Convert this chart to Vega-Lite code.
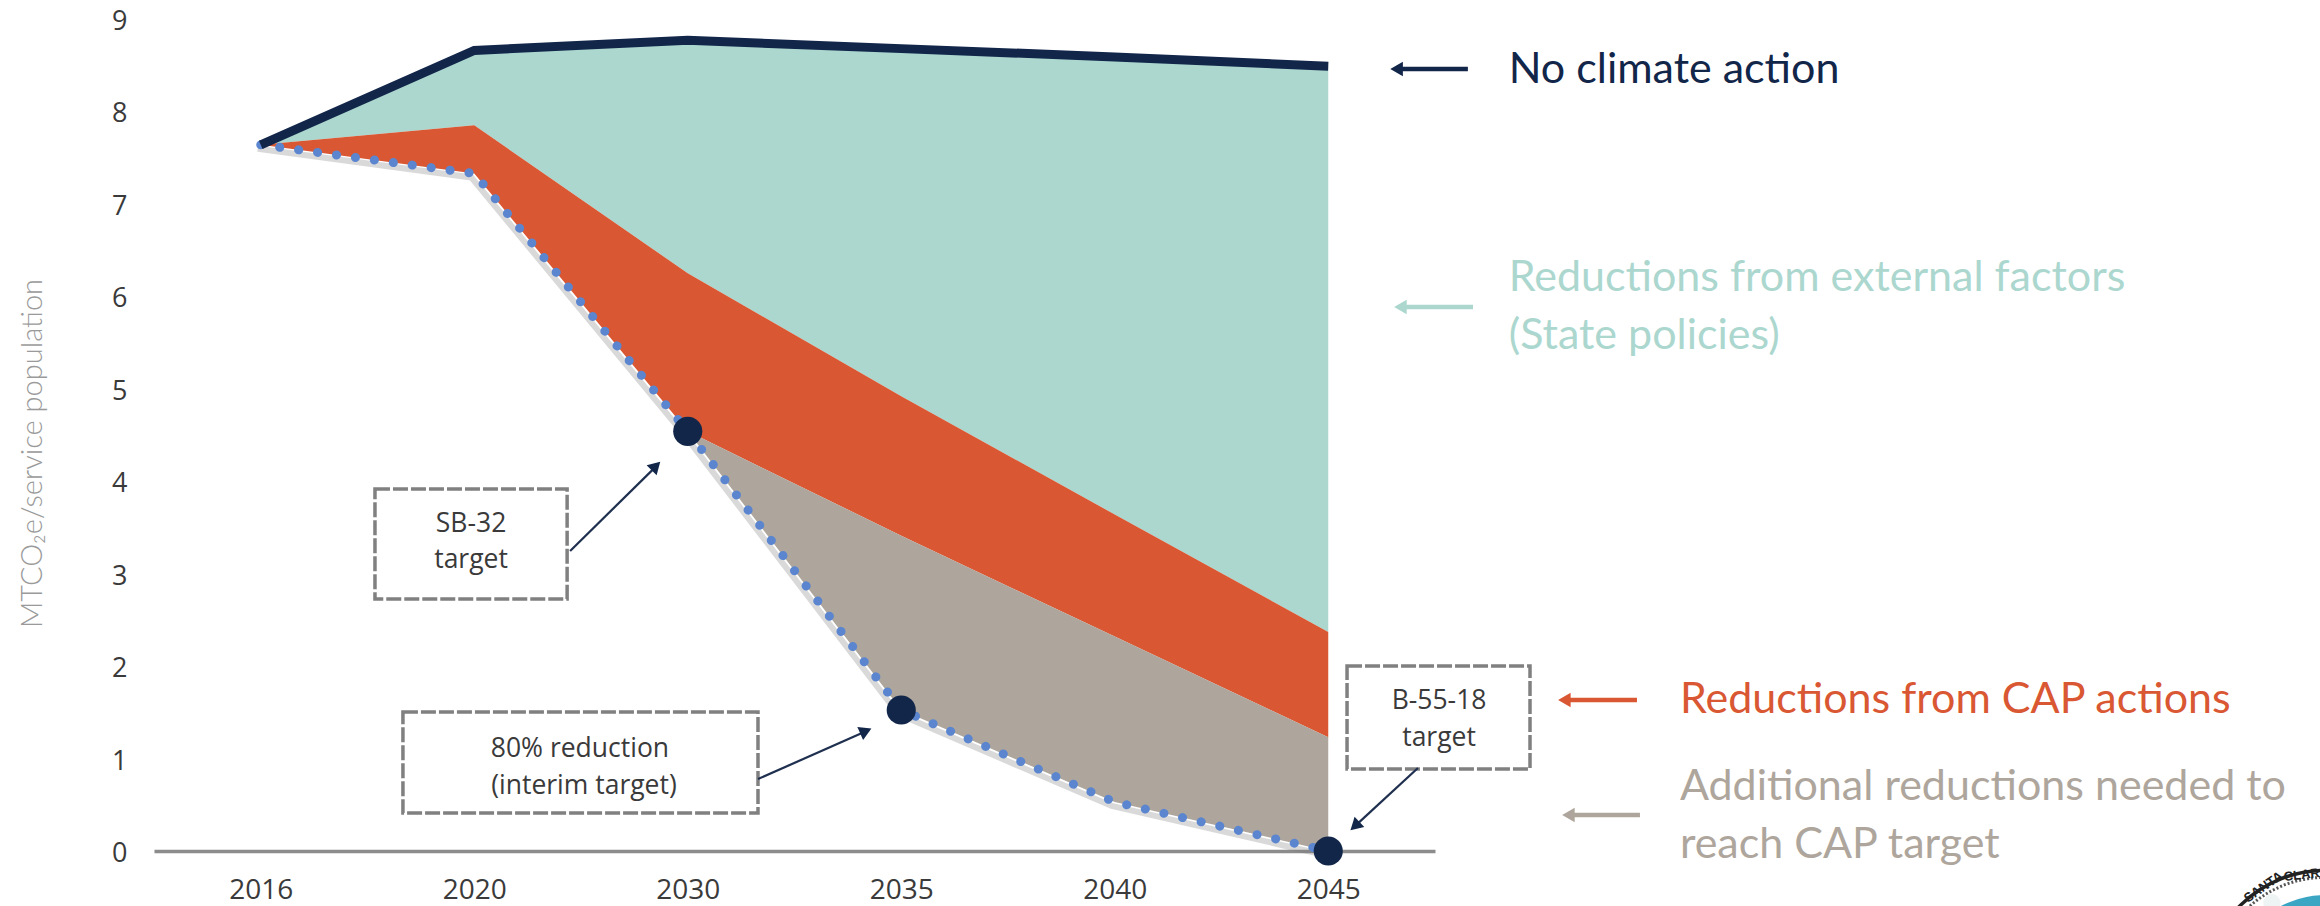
{
"$schema":"https://vega.github.io/schema/vega-lite/v6.json",
"width":1281,"height":851,
"autosize":{"type":"none"},
"padding":{"left":154,"top":0,"right":885,"bottom":55},
"background":"white",
"config":{"view":{"stroke":null}},
"datasets":{
"series":[
{"year":"2016","pos":0,"noAction":7.64,"afterExternal":7.64,"afterCAP":7.64,"target":7.64},
{"year":"2020","pos":1,"noAction":8.66,"afterExternal":7.85,"afterCAP":7.33,"target":7.33},
{"year":"2030","pos":2,"noAction":8.77,"afterExternal":6.25,"afterCAP":4.54,"target":4.54},
{"year":"2035","pos":3,"noAction":8.68,"afterExternal":4.92,"afterCAP":3.41,"target":1.525},
{"year":"2040","pos":4,"noAction":8.59,"afterExternal":3.64,"afterCAP":2.32,"target":0.53},
{"year":"2045","pos":5,"noAction":8.49,"afterExternal":2.37,"afterCAP":1.23,"target":0}
],
"targets":[
{"name":"SB-32","pos":2,"value":4.54},
{"name":"80% reduction","pos":3,"value":1.525},
{"name":"B-55-18","pos":5,"value":0}
],
"keyText":[
{"text":"No climate action","pos":5.845,"value":8.449,"group":"none"},
{"text":"Reductions from external factors","pos":5.845,"value":6.199,"group":"external"},
{"text":"(State policies)","pos":5.845,"value":5.571,"group":"external"},
{"text":"Reductions from CAP actions","pos":6.647,"value":1.633,"group":"cap"},
{"text":"Additional reductions needed to","pos":6.647,"value":0.692,"group":"extra"},
{"text":"reach CAP target","pos":6.647,"value":0.065,"group":"extra"}
],
"keyArrows":[
{"pos":5.32,"pos2":5.654,"value":8.459,"group":"none"},
{"pos":5.338,"pos2":5.678,"value":5.885,"group":"external"},
{"pos":6.106,"pos2":6.446,"value":1.633,"group":"cap"},
{"pos":6.125,"pos2":6.46,"value":0.389,"group":"extra"}
],
"boxes":[
{"pos":0.535,"pos2":1.435,"value":3.916,"value2":2.726},
{"pos":0.666,"pos2":2.329,"value":1.504,"value2":0.411},
{"pos":5.088,"pos2":5.945,"value":2.001,"value2":0.887}
],
"boxText":[
{"text":"SB-32","pos":0.985,"value":3.537},
{"text":"target","pos":0.985,"value":3.148},
{"text":"80% reduction","pos":1.495,"value":1.103},
{"text":"(interim target)","pos":1.514,"value":0.703},
{"text":"B-55-18","pos":5.519,"value":1.623},
{"text":"target","pos":5.519,"value":1.222}
],
"pointers":[
{"pos":1.449,"pos2":1.86,"value":3.245,"value2":4.18},
{"pos":2.329,"pos2":2.84,"value":0.779,"value2":1.3},
{"pos":5.42,"pos2":5.13,"value":0.898,"value2":0.28}
]
},
"layer":[
{"data":{"name":"series"},"mark":{"type":"area","color":"#abd7cf","opacity":1},
"encoding":{
"x":{"field":"pos","type":"quantitative","scale":{"domain":[-0.5,5.5],"nice":false,"zero":false},
"axis":{"values":[0,1,2,3,4,5],"labelExpr":"['2016','2020','2030','2035','2040','2045'][datum.value]","title":null,"grid":false,"ticks":false,"domainColor":"#8c8c8c","domainWidth":3.5,"labelFont":"Open Sans","labelFontSize":28,"labelColor":"#3a3a3a","labelPadding":25,"labelFlush":false,"labelBound":false,"labelOverlap":false}},
"y":{"field":"noAction","type":"quantitative","scale":{"domain":[0,9.206],"nice":false},
"axis":{"values":[0,1,2,3,4,5,6,7,8,9],"format":"d","grid":false,"ticks":false,"domain":false,"labelFont":"Open Sans","labelFontSize":27,"labelColor":"#3a3a3a","labelPadding":27,"labelOffset":2.5,"title":"MTCO₂e/service population","titleFont":"Lato","titleFontWeight":300,"titleFontSize":29,"titleColor":"#9a9a9a","titleX":-122,"titleY":453,"titleAngle":-90,"titleAlign":"center","titleBaseline":"middle"}},
"y2":{"field":"afterExternal"}}},
{"data":{"name":"series"},"mark":{"type":"area","color":"#d95733","opacity":1},
"encoding":{"x":{"field":"pos","type":"quantitative"},"y":{"field":"afterExternal","type":"quantitative"},"y2":{"field":"afterCAP"}}},
{"data":{"name":"series"},"mark":{"type":"area","color":"#aea69c","opacity":1},
"encoding":{"x":{"field":"pos","type":"quantitative"},"y":{"field":"afterCAP","type":"quantitative"},"y2":{"field":"target"}}},
{"data":{"name":"series"},"mark":{"type":"line","color":"#777777","opacity":0.28,"strokeWidth":6,"yOffset":4,"xOffset":-3},
"encoding":{"x":{"field":"pos","type":"quantitative"},"y":{"field":"target","type":"quantitative"}}},
{"data":{"name":"series"},"mark":{"type":"line","color":"#5b86cf","strokeWidth":9,"strokeCap":"round","strokeDash":[0.1,19]},
"encoding":{"x":{"field":"pos","type":"quantitative"},"y":{"field":"target","type":"quantitative"}}},
{"data":{"name":"series"},"mark":{"type":"line","color":"#12264a","strokeWidth":9},
"encoding":{"x":{"field":"pos","type":"quantitative"},"y":{"field":"noAction","type":"quantitative"}}},
{"data":{"name":"targets"},"mark":{"type":"point","shape":"circle","filled":true,"color":"#12264a","opacity":1,"size":850},
"encoding":{"x":{"field":"pos","type":"quantitative"},"y":{"field":"value","type":"quantitative"}}},
{"data":{"name":"boxes"},"mark":{"type":"rect","fill":null,"stroke":"#808080","strokeWidth":3.5,"strokeDash":[15,3]},
"encoding":{"x":{"field":"pos","type":"quantitative"},"x2":{"field":"pos2"},"y":{"field":"value","type":"quantitative"},"y2":{"field":"value2"}}},
{"data":{"name":"boxText"},"mark":{"type":"text","font":"Open Sans","fontSize":26.5,"color":"#3a3a3a","align":"center","baseline":"middle"},
"encoding":{"x":{"field":"pos","type":"quantitative"},"y":{"field":"value","type":"quantitative"},"text":{"field":"text"}}},
{"data":{"name":"pointers"},"mark":{"type":"rule","color":"#1f2f4f","strokeWidth":2.2},
"encoding":{"x":{"field":"pos","type":"quantitative"},"x2":{"field":"pos2"},"y":{"field":"value","type":"quantitative"},"y2":{"field":"value2"}}},
{"data":{"values":[{"pos":1.851,"value":4.165}]},"mark":{"type":"point","shape":"triangle-up","angle":45,"filled":true,"color":"#12264a","opacity":1,"size":200},
"encoding":{"x":{"field":"pos","type":"quantitative"},"y":{"field":"value","type":"quantitative"}}},
{"data":{"values":[{"pos":2.834,"value":1.298}]},"mark":{"type":"point","shape":"triangle-up","angle":66,"filled":true,"color":"#12264a","opacity":1,"size":200},
"encoding":{"x":{"field":"pos","type":"quantitative"},"y":{"field":"value","type":"quantitative"}}},
{"data":{"values":[{"pos":5.125,"value":0.27}]},"mark":{"type":"point","shape":"triangle-up","angle":227,"filled":true,"color":"#12264a","opacity":1,"size":200},
"encoding":{"x":{"field":"pos","type":"quantitative"},"y":{"field":"value","type":"quantitative"}}},
{"data":{"name":"keyArrows"},"mark":{"type":"rule","strokeWidth":4.5},
"encoding":{"x":{"field":"pos","type":"quantitative"},"x2":{"field":"pos2"},"y":{"field":"value","type":"quantitative"},
"color":{"field":"group","type":"nominal","legend":null,"scale":{"domain":["none","external","cap","extra"],"range":["#12264a","#abd7cf","#d95733","#aea69c"]}}}},
{"data":{"name":"keyArrows"},"mark":{"type":"point","shape":"triangle-left","filled":true,"opacity":1,"size":210},
"encoding":{"x":{"field":"pos","type":"quantitative"},"y":{"field":"value","type":"quantitative"},
"color":{"field":"group","type":"nominal","legend":null}}},
{"data":{"name":"keyText"},"mark":{"type":"text","font":"Lato","fontSize":43,"align":"left","baseline":"middle"},
"encoding":{"x":{"field":"pos","type":"quantitative"},"y":{"field":"value","type":"quantitative"},"text":{"field":"text"},
"color":{"field":"group","type":"nominal","legend":null}}},
{"data":{"values":[{"pos":9.668,"value":-1.504}]},"mark":{"type":"point","shape":"circle","filled":false,"color":"#222222","opacity":1,"size":57256,"strokeWidth":3.5},
"encoding":{"x":{"field":"pos","type":"quantitative"},"y":{"field":"value","type":"quantitative"}}},
{"data":{"values":[{"pos":9.668,"value":-1.504}]},"mark":{"type":"point","shape":"circle","filled":false,"color":"#555555","opacity":1,"size":50670,"strokeWidth":3,"strokeDash":[2,2]},
"encoding":{"x":{"field":"pos","type":"quantitative"},"y":{"field":"value","type":"quantitative"}}},
{"data":{"values":[{"pos":9.668,"value":-1.504}]},"mark":{"type":"point","shape":"circle","filled":true,"color":"#3ba5c4","opacity":1,"size":35968},
"encoding":{"x":{"field":"pos","type":"quantitative"},"y":{"field":"value","type":"quantitative"}}},
{"data":{"values":[{"pos":9.42,"value":-0.56}]},"mark":{"type":"point","shape":"circle","filled":true,"color":"#eef3f4","opacity":1,"size":300},
"encoding":{"x":{"field":"pos","type":"quantitative"},"y":{"field":"value","type":"quantitative"}}},
{"data":{"values":[{"text":"SANTA","pos":9.38,"value":-0.39}]},"mark":{"type":"text","font":"Liberation Sans","fontWeight":"bold","fontSize":13,"color":"#222222","angle":-35,"align":"center","baseline":"middle"},
"encoding":{"x":{"field":"pos","type":"quantitative"},"y":{"field":"value","type":"quantitative"},"text":{"field":"text"}}},
{"data":{"values":[{"text":"CLAR","pos":9.56,"value":-0.26}]},"mark":{"type":"text","font":"Liberation Sans","fontWeight":"bold","fontSize":13,"color":"#222222","angle":-6,"align":"center","baseline":"middle"},
"encoding":{"x":{"field":"pos","type":"quantitative"},"y":{"field":"value","type":"quantitative"},"text":{"field":"text"}}}
]
}
